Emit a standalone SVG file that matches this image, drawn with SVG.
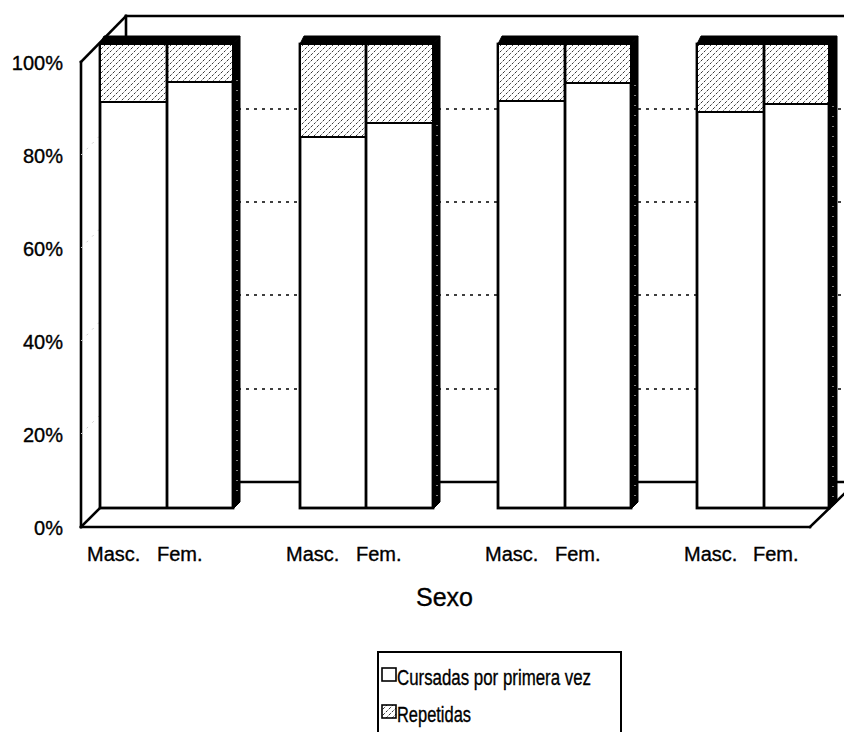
<svg xmlns="http://www.w3.org/2000/svg" width="844" height="732" viewBox="0 0 844 732">
<defs>
<pattern id="hatch" patternUnits="userSpaceOnUse" width="6" height="6">
<rect width="6" height="6" fill="#fff"/>
<path d="M-1,7 L7,-1" stroke="#333" stroke-width="1" stroke-dasharray="2.5 1.5"/>
</pattern>
<style>
.ax{stroke:#000;stroke-width:2.6;fill:none;stroke-linecap:square}
.grid{stroke:#000;stroke-width:1.3;stroke-dasharray:3 5;fill:none}
.sgrid{stroke:#ccc;stroke-width:1;stroke-dasharray:2 6;fill:none}
.face{fill:#fff;stroke:#000;stroke-width:2.8}
.rep{fill:url(#hatch);stroke:#000;stroke-width:2}
.side{fill:#000;stroke:#000;stroke-width:1}
.speck{stroke:#fff;stroke-width:1;stroke-dasharray:1 9;fill:none}
.lbl{font-family:"Liberation Sans",Arial,sans-serif;fill:#000;stroke:#000;stroke-width:0.35}
</style>
</defs>
<rect width="844" height="732" fill="#fff"/>

<g id="walls">
<line class="ax" x1="126" y1="16" x2="844" y2="16"/>
<line class="ax" x1="126" y1="16" x2="126" y2="40"/>
<line class="ax" x1="81" y1="62" x2="126" y2="16"/>
<line class="ax" x1="81" y1="62" x2="81" y2="527"/>
<line class="ax" x1="81" y1="527" x2="810" y2="527"/>
<line class="ax" x1="81" y1="527" x2="105" y2="503"/>
<line class="ax" x1="810" y1="527" x2="844" y2="494"/>
<line class="grid" x1="126" y1="109" x2="844" y2="109"/>
<line class="grid" x1="126" y1="202" x2="844" y2="202"/>
<line class="grid" x1="126" y1="295" x2="844" y2="295"/>
<line class="grid" x1="126" y1="389" x2="844" y2="389"/>
<line class="sgrid" x1="81" y1="155" x2="126" y2="109"/>
<line class="sgrid" x1="81" y1="248" x2="126" y2="202"/>
<line class="sgrid" x1="81" y1="341" x2="126" y2="295"/>
<line class="sgrid" x1="81" y1="434" x2="126" y2="389"/>
<line class="ax" x1="126" y1="482" x2="844" y2="482"/>
</g>

<g id="bar1">
<rect class="face" x="100" y="44" width="133" height="464"/>
<rect class="rep" x="100" y="44" width="67" height="58"/>
<rect class="rep" x="167" y="44" width="66" height="38"/>
<line class="face" x1="167" y1="44" x2="167" y2="508"/>
<polygon class="side" points="100,44 104,36 240,36 233,44"/>
<polygon class="side" points="233,44 240,36 240,502 234,508 233,508"/>
<line class="speck" x1="237" y1="80" x2="237" y2="500"/>
</g>

<g id="bar2">
<rect class="face" x="300" y="44" width="133" height="464"/>
<rect class="rep" x="300" y="44" width="66" height="93"/>
<rect class="rep" x="366" y="44" width="67" height="79"/>
<line class="face" x1="366" y1="44" x2="366" y2="508"/>
<polygon class="side" points="300,44 304,36 440,36 433,44"/>
<polygon class="side" points="433,44 440,36 440,502 434,508 433,508"/>
<line class="speck" x1="437" y1="125" x2="437" y2="500"/>
</g>

<g id="bar3">
<rect class="face" x="498" y="44" width="133" height="464"/>
<rect class="rep" x="498" y="44" width="67" height="57"/>
<rect class="rep" x="565" y="44" width="66" height="39"/>
<line class="face" x1="565" y1="44" x2="565" y2="508"/>
<polygon class="side" points="498,44 502,36 638,36 631,44"/>
<polygon class="side" points="631,44 638,36 638,502 632,508 631,508"/>
<line class="speck" x1="635" y1="85" x2="635" y2="500"/>
</g>

<g id="bar4">
<rect class="face" x="697" y="44" width="132" height="464"/>
<rect class="rep" x="697" y="44" width="67" height="68"/>
<rect class="rep" x="764" y="44" width="65" height="60"/>
<line class="face" x1="764" y1="44" x2="764" y2="508"/>
<polygon class="side" points="697,44 701,36 837,36 829,44"/>
<polygon class="side" points="829,44 837,36 837,502 830,508 829,508"/>
<line class="speck" x1="833" y1="106" x2="833" y2="500"/>
</g>

<g id="yaxis" class="lbl" font-size="20" text-anchor="end">
<text x="63" y="70">100%</text>
<text x="63" y="163">80%</text>
<text x="63" y="256">60%</text>
<text x="63" y="349">40%</text>
<text x="63" y="442">20%</text>
<text x="63" y="535">0%</text>
</g>

<g id="xaxis" class="lbl" font-size="20">
<text x="87" y="561">Masc.</text>
<text x="157" y="561">Fem.</text>
<text x="286" y="561">Masc.</text>
<text x="356" y="561">Fem.</text>
<text x="485" y="561">Masc.</text>
<text x="555" y="561">Fem.</text>
<text x="684" y="561">Masc.</text>
<text x="753" y="561">Fem.</text>
<text x="416" y="606" font-size="25">Sexo</text>
</g>

<g id="legend">
<rect x="378" y="652" width="243" height="100" fill="#fff" stroke="#000" stroke-width="2"/>
<rect x="382" y="668" width="14" height="13" fill="#fff" stroke="#000" stroke-width="1.6"/>
<rect x="382" y="705" width="14" height="13" fill="url(#hatch)" stroke="#000" stroke-width="1.6"/>
<text class="lbl" x="397" y="685" font-size="22" textLength="194" lengthAdjust="spacingAndGlyphs">Cursadas por primera vez</text>
<text class="lbl" x="397" y="722" font-size="22" textLength="74" lengthAdjust="spacingAndGlyphs">Repetidas</text>
</g>
</svg>
